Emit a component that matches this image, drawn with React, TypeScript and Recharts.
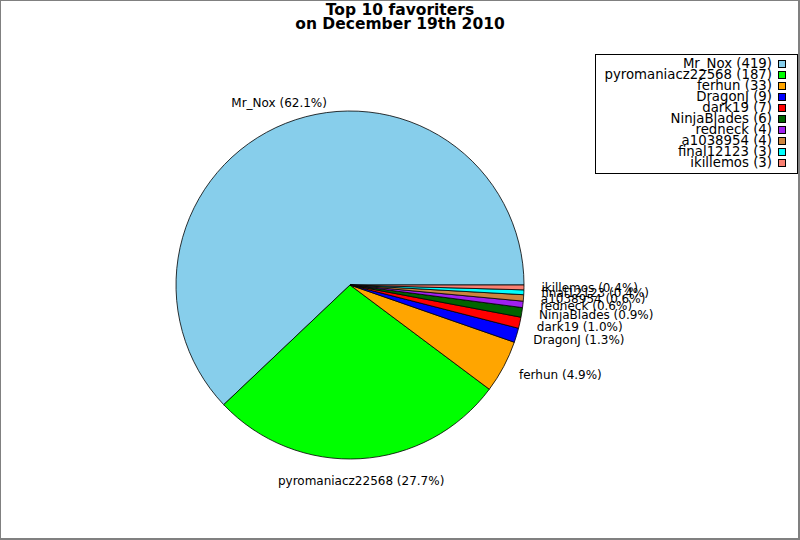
import React from "react";
import { PieChart, Pie, Cell, Legend } from "recharts";

const names = [
    "Mr_Nox",
    "pyromaniacz22568",
    "ferhun",
    "DragonJ",
    "dark19",
    "NinjaBlades",
    "redneck",
    "a1038954",
    "final12123",
    "ikillemos",
];
const counts = [419, 187, 33, 9, 7, 6, 4, 4, 3, 3];
const COLORS = [
    "#87ceeb",
    "#00ff00",
    "#ffa500",
    "#0000ff",
    "#ff0000",
    "#006400",
    "#a020f0",
    "#cd853f",
    "#00ffff",
    "#fa8072",
];
const titleLines = ["Top 10 favoriters", "on December 19th 2010"];

const data = names.map((name, i) => ({ name, value: counts[i] }));
const FONT = "'DejaVu Sans', Verdana, sans-serif";
const RADIAN = Math.PI / 180;

function renderLabel(props: any) {
    const { cx, cy, midAngle, outerRadius, percent, name } = props;
    const r = outerRadius * 1.1;
    const cos = Math.cos(-midAngle * RADIAN);
    const sin = Math.sin(-midAngle * RADIAN);
    const x = cx + r * cos;
    const y = cy + r * sin;
    const anchor = cos > 0.5 ? "start" : cos < -0.5 ? "end" : "middle";
    const baseline = sin < -0.5 ? "auto" : sin > 0.5 ? "hanging" : "central";
    return (
        <text
            x={x}
            y={y}
            textAnchor={anchor}
            dominantBaseline={baseline}
            fontFamily={FONT}
            fontSize={12}
            fill="#000"
        >
            {`${name} (${(percent * 100).toFixed(1)}%)`}
        </text>
    );
}

function LegendBox() {
    return (
        <svg width={203} height={120} style={{ display: "block" }}>
            <rect x={0.5} y={0.5} width={202} height={119} fill="#fff" stroke="#000" />
            {names.map((name, i) => (
                <g key={name}>
                    <text
                        x={177}
                        y={14 + i * 11}
                        textAnchor="end"
                        fontFamily={FONT}
                        fontSize={13.3}
                        fill="#000"
                    >
                        {`${name} (${counts[i]})`}
                    </text>
                    <rect
                        x={183.5}
                        y={6.5 + i * 11}
                        width={7}
                        height={7}
                        fill={COLORS[i]}
                        stroke="#000"
                    />
                </g>
            ))}
        </svg>
    );
}

export default function App() {
    return (
        <div style={{ position: "relative", width: 800, height: 540, background: "#fff" }}>
            <style>{"body{margin:0}"}</style>
            <div style={{ position: "absolute", left: 0, top: 0 }}>
                <PieChart width={800} height={540} margin={{ top: 0, right: 0, bottom: 0, left: 0 }}>
                    <Pie
                        data={data}
                        dataKey="value"
                        nameKey="name"
                        cx={350}
                        cy={285}
                        outerRadius={174}
                        startAngle={0}
                        endAngle={360}
                        stroke="#000"
                        strokeWidth={0.8}
                        label={renderLabel}
                        labelLine={false}
                        isAnimationActive={false}
                    >
                        {data.map((_, i) => (
                            <Cell key={`cell-${i}`} fill={COLORS[i]} />
                        ))}
                    </Pie>
                    <Legend
                        content={() => <LegendBox />}
                        wrapperStyle={{ position: "absolute", left: 595, top: 54, width: 203 }}
                    />
                </PieChart>
            </div>
            <svg
                width={800}
                height={40}
                style={{ position: "absolute", left: 0, top: 0, pointerEvents: "none" }}
            >
                {titleLines.map((line, i) => (
                    <text
                        key={line}
                        x={400}
                        y={15 + i * 14}
                        textAnchor="middle"
                        fontFamily={FONT}
                        fontWeight="bold"
                        fontSize={15.5}
                        fill="#000"
                    >
                        {line}
                    </text>
                ))}
            </svg>
            <div
                style={{
                    position: "absolute",
                    inset: 0,
                    boxSizing: "border-box",
                    borderTop: "1px solid #808080",
                    borderLeft: "1px solid #808080",
                    borderRight: "2px solid #808080",
                    borderBottom: "2px solid #808080",
                    pointerEvents: "none",
                }}
            />
        </div>
    );
}
